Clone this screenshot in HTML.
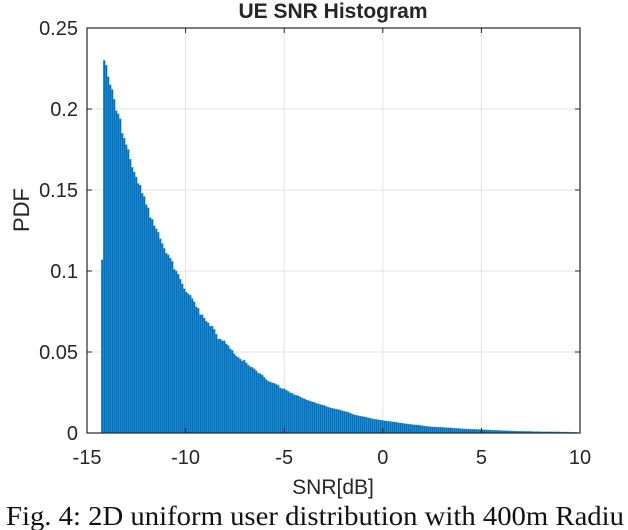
<!DOCTYPE html>
<html><head><meta charset="utf-8"><style>
html,body{margin:0;padding:0;background:#fff;width:628px;height:530px;overflow:hidden}
svg{display:block}
.t{font-family:"Liberation Sans",Arial,sans-serif;fill:#262626}
</style></head><body>
<svg id="chart" width="628" height="530" viewBox="0 0 628 530">
<g id="grid"></g>
<g id="bars"></g>
<g id="axes"></g>
<text class="t" x="333" y="18" text-anchor="middle" font-size="21" font-weight="bold" fill="#000">UE SNR Histogram</text>
<text class="t" x="333" y="494" text-anchor="middle" font-size="21">SNR[dB]</text>
<text class="t" transform="translate(29,210) rotate(-90)" text-anchor="middle" font-size="22">PDF</text>
<text x="6" y="525" font-family="'Liberation Serif',serif" font-size="27" textLength="618" lengthAdjust="spacingAndGlyphs" fill="#111">Fig. 4: 2D uniform user distribution with 400m Radiu</text>
</svg>
<script>
const binStart = -14.28;
const binWidth = 0.1015;
const pdfValues = [0.107,0.230,0.227,0.220,0.215,0.212,0.206,0.199,0.197,0.194,0.185,0.182,0.178,0.175,0.169,0.164,0.161,0.158,0.154,0.153,0.148,0.146,0.141,0.139,0.133,0.132,0.128,0.126,0.124,0.120,0.117,0.114,0.111,0.110,0.108,0.106,0.101,0.100,0.098,0.095,0.092,0.089,0.087,0.086,0.085,0.083,0.081,0.078,0.077,0.073,0.073,0.071,0.069,0.068,0.066,0.066,0.064,0.061,0.058,0.058,0.057,0.057,0.055,0.054,
0.052,0.051,0.049,0.0475,0.0467,0.0457,0.0445,0.045,0.0434,0.042,0.041,0.0405,0.0397,0.0385,0.037,0.0366,0.0358,0.0344,0.033,0.032,0.0315,0.031,0.0307,0.030,0.0294,0.0278,0.0273,0.0273,0.0265,0.0257,0.0249,0.0245,0.0236,0.0233,0.023,
0.0222,0.0216,0.0212,0.0205,0.0201,0.0196,0.0192,0.0190,0.0184,0.0180,0.0176,0.0173,0.0170,0.0164,0.0160,0.0155,0.0153,0.0150,0.0147,0.0145,0.0142,0.0137,0.0134,0.0131,0.0128,0.0122,0.0117,0.0113,0.0110,0.0107,0.0104,0.0102,0.0100,0.0097,0.0094,0.0091,0.0088,0.0086,0.0084,0.0082,0.0080,0.0078,0.0076,0.0074,0.0073,0.0071,0.0070,
0.0068,0.0066,0.0064,0.0062,0.0060,0.0058,0.0057,0.0055,0.0054,0.0052,0.0051,0.0050,0.0049,0.0047,0.0045,0.0043,0.0042,0.0040,0.0039,0.0038,0.0037,0.0037,0.0036,0.0035,0.0035,0.0034,0.0033,0.0033,0.0032,0.0031,0.0030,0.0029,0.0028,0.0027,0.0026,
0.0025,0.0025,0.0024,0.0024,0.0023,0.0023,0.0022,0.0022,0.0021,0.0021,0.0020,0.0019,0.0019,0.0018,0.0018,0.0017,0.0017,0.0016,0.0016,0.0015,0.0015,0.0014,0.0013,0.0013,0.0012,0.0012,0.0012,0.0011,0.0011,0.0011,0.0010,0.0010,0.0010,
0.0010,0.0009,0.0009,0.0009,0.0009,0.0008,0.0008,0.0008,0.0008,0.0008,0.0007,0.0007,0.0007,0.0007,0.0007,0.0006,0.0006,0.0006,0.0006,0.0006,0.0005,0.0005,0.0004,0.0004];
const xTicks = [-15,-10,-5,0,5,10];
const xTickLabels = ["-15","-10","-5","0","5","10"];
const yTicks = [0,0.05,0.1,0.15,0.2,0.25];
const yTickLabels = ["0","0.05","0.1","0.15","0.2","0.25"];

const NS = "http://www.w3.org/2000/svg";
const L = 87, R = 580, T = 28, B = 433;
const xMin = -15, xMax = 10, yMin = 0, yMax = 0.25;
function sx(v){ return L + (v - xMin) / (xMax - xMin) * (R - L); }
function sy(v){ return B - (v - yMin) / (yMax - yMin) * (B - T); }
function mk(tag, attrs, parent){ const e = document.createElementNS(NS, tag); for (const k in attrs) e.setAttribute(k, attrs[k]); parent.appendChild(e); return e; }

const grid = document.getElementById('grid');
const bars = document.getElementById('bars');
const axes = document.getElementById('axes');

xTicks.forEach((v, i) => {
  if (i > 0 && i < xTicks.length - 1) {
    const g = mk('line', {x1: sx(v), x2: sx(v), y1: T, y2: B, stroke: '#e3e3e3', 'stroke-width': 1}, grid);
    
    
  }
});
yTicks.forEach((v, i) => {
  if (i > 0 && i < yTicks.length - 1) {
    const g = mk('line', {x1: L, x2: R, y1: sy(v), y2: sy(v), stroke: '#e3e3e3', 'stroke-width': 1}, grid);
    
    
  }
});

pdfValues.forEach((v, i) => {
  const x0 = sx(binStart + i * binWidth), x1 = sx(binStart + (i + 1) * binWidth);
  const r = mk('rect', {x: x0, y: sy(v), width: x1 - x0, height: sy(0) - sy(v), fill: '#0072BD', stroke: '#4da3dd', 'stroke-width': 0.35}, bars);
  
  
});

const box = mk('rect', {x: L, y: T, width: R - L, height: B - T, fill: 'none', stroke: '#262626', 'stroke-width': 1.2}, axes);



xTicks.forEach((v, i) => {
  mk('line', {x1: sx(v), x2: sx(v), y1: B, y2: B - 5, stroke: '#262626'}, axes);
  mk('line', {x1: sx(v), x2: sx(v), y1: T, y2: T + 5, stroke: '#262626'}, axes);
  const t = mk('text', {x: sx(v), y: 464, 'text-anchor': 'middle', 'font-size': 20, class: 't'}, axes);
  t.textContent = xTickLabels[i];
  
  
});
yTicks.forEach((v, i) => {
  mk('line', {x1: L, x2: L + 5, y1: sy(v), y2: sy(v), stroke: '#262626'}, axes);
  mk('line', {x1: R, x2: R - 5, y1: sy(v), y2: sy(v), stroke: '#262626'}, axes);
  const t = mk('text', {x: 78, y: sy(v) + 7, 'text-anchor': 'end', 'font-size': 20, class: 't'}, axes);
  t.textContent = yTickLabels[i];
  
  
});
</script>
</body></html>
